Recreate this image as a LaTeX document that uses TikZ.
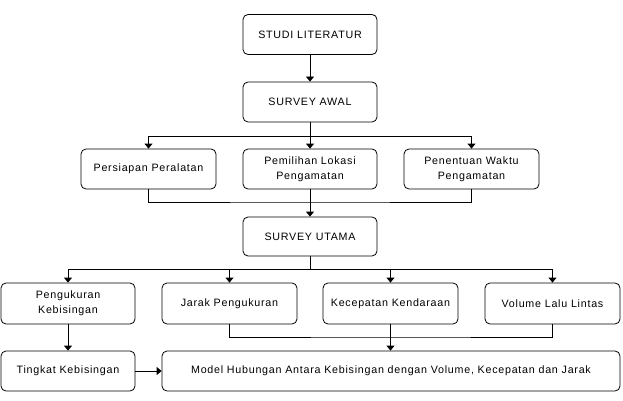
\documentclass[tikz,border=0pt]{standalone}
\usepackage{fontspec}
\newfontfamily\diafont[LetterSpace=7]{Liberation Sans}
\usetikzlibrary{arrows.meta}
\begin{document}
\begin{tikzpicture}[x=1pt,y=-1pt,
  box/.style={draw,line width=0.8pt,rounded corners=5pt,align=center,
    font=\diafont\fontsize{10.7}{15}\selectfont,inner sep=0pt,
    minimum width=134pt,minimum height=40pt},
  link/.style={line width=0.8pt},
  arr/.style={line width=0.8pt,-{Triangle[width=8pt,length=5pt]}}]
\useasboundingbox (0,0) rectangle (623,401);
\node[box] (studi) at (310,34.5) {STUDI LITERATUR};
\node[box] (awal) at (310,102) {SURVEY AWAL};
\node[box,minimum width=135pt] (persiapan) at (148.5,169) {Persiapan Peralatan};
\node[box] (pemilihan) at (310,169) {Pemilihan Lokasi\\Pengamatan};
\node[box,minimum width=135pt] (penentuan) at (471.5,169) {Penentuan Waktu\\Pengamatan};
\node[box,minimum height=39pt] (utama) at (310,236.5) {SURVEY UTAMA};
\node[box,minimum height=41pt] (pengukuran) at (68,303.5) {Pengukuran\\Kebisingan};
\node[box,minimum width=135pt,minimum height=41pt] (jarak) at (229.5,303.5) {Jarak Pengukuran};
\node[box,minimum width=135pt,minimum height=41pt] (kecepatan) at (390.5,303.5) {Kecepatan Kendaraan};
\node[box,minimum width=135pt,minimum height=41pt] (volume) at (552.5,303.5) {Volume Lalu Lintas};
\node[box] (tingkat) at (68,371) {Tingkat Kebisingan};
\node[box,minimum width=458pt] (model) at (391,371) {Model Hubungan Antara Kebisingan dengan Volume, Kecepatan dan Jarak};
\coordinate (b1) at (310,136);
\coordinate (m1) at (310,202);
\coordinate (b2) at (310,269);
\coordinate (m2) at (390.5,337);
\draw[arr] (studi) -- (awal);
\draw[link] (awal.south) -- (b1);
\draw[arr] (b1) -| (persiapan.north);
\draw[arr] (b1) -| (penentuan.north);
\draw[arr] (b1) -- (pemilihan.north);
\draw[link] (persiapan.south) |- (m1) -| (penentuan.south);
\draw[arr] (pemilihan.south) -- (utama.north);
\draw[link] (utama.south) -- (b2);
\draw[arr] (b2) -| (pengukuran.north);
\draw[arr] (b2) -| (volume.north);
\draw[arr] (b2) -| (jarak.north);
\draw[arr] (b2) -| (kecepatan.north);
\draw[link] (jarak.south) |- (m2) -| (volume.south);
\draw[arr] (kecepatan.south) -- (kecepatan.south |- model.north);
\draw[arr] (pengukuran) -- (tingkat);
\draw[arr] (tingkat) -- (model);
\end{tikzpicture}
\end{document}
